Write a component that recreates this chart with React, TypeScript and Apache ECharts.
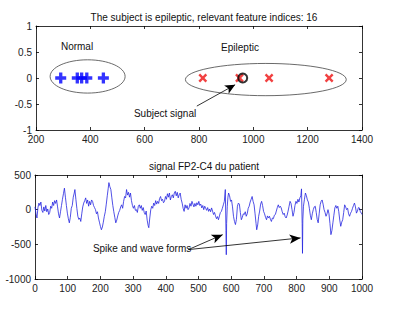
import React, { useEffect, useRef } from "react";
import * as echarts from "echarts";

// ---- Top panel data ----
const normalX = [291, 352, 368, 387, 448];
const epilepticX = [814, 949, 1058, 1279];
const subjectX = [961];
const featureY = 0;
// ellipses: [cx, cy, rx, ry]
const ellipses = [
  [390, 0.03, 138, 0.32],
  [1046, -0.03, 296, 0.31],
];
const topXTicks = { min: 200, max: 1400, interval: 200 };
const topYTicks = { min: -1, max: 1, interval: 0.5 };
const topTitle = "The subject is epileptic, relevant feature indices: 16";
const topLabels = [
  { text: "Normal", x: 351, y: 0.6 },
  { text: "Epileptic", x: 951, y: 0.59 },
  { text: "Subject signal", x: 675, y: -0.68 },
];
const topArrow = [[792, -0.54], [933, -0.13]];

// ---- Bottom panel data (signal samples) ----
const sigT = [
  0, 3, 6, 9, 12, 15, 18, 21, 24, 27, 30, 33, 36, 39, 42, 45, 48, 51, 54, 57, 60, 63, 66, 69, 72, 75, 78, 81, 84, 87, 90, 93, 96, 99,
  102, 105, 108, 111, 114, 117, 120, 122, 125, 128, 131, 134, 137, 140, 143, 146, 149, 152, 155, 158, 161, 164, 167, 170, 173, 176, 179,
  182, 185, 188, 191, 194, 197, 200, 203, 206, 209, 212, 215, 218, 221, 224, 226, 229, 232, 235, 238, 241, 244, 247, 250, 253, 256, 259,
  262, 265, 268, 271, 274, 277, 280, 283, 286, 289, 292, 295, 298, 301, 304, 307, 310, 313, 316, 319, 322, 325, 328, 331, 334, 337, 340,
  343, 346, 348, 351, 354, 357, 360, 363, 366, 369, 372, 375, 378, 381, 384, 387, 390, 393, 396, 399, 402, 405, 408, 411, 414, 417, 420,
  423, 426, 429, 432, 435, 438, 441, 444, 447, 450, 453, 456, 459, 462, 465, 468, 471, 474, 477, 480, 483, 486, 489, 492, 495, 498, 501,
  504, 507, 510, 513, 516, 519, 522, 525, 528, 531, 534, 537, 540, 543, 546, 549, 552, 555, 558, 561, 564, 567, 570, 573, 576, 579, 582,
  584, 585, 586, 588, 590, 592, 595, 598, 601, 604, 607, 610, 613, 616, 619, 622, 625, 628, 631, 634, 637, 640, 643, 646, 649, 652, 655,
  658, 661, 664, 667, 670, 673, 676, 678, 681, 684, 687, 690, 693, 696, 699, 702, 705, 708, 711, 714, 717, 720, 723, 726, 729, 732, 735,
  738, 741, 744, 747, 750, 753, 756, 759, 762, 765, 768, 771, 774, 777, 780, 783, 786, 789, 792, 795, 798, 801, 804, 807, 810, 813, 815,
  817, 818, 819, 821, 824, 827, 830, 833, 836, 839, 842, 845, 848, 851, 854, 857, 860, 863, 866, 869, 872, 875, 878, 881, 884, 887, 890,
  893, 896, 899, 902, 905, 908, 911, 914, 917, 920, 923, 926, 929, 932, 935, 938, 941, 944, 947, 950, 953, 956, 959, 962, 965, 968, 971,
  974, 977, 980, 983, 986, 989, 992, 995, 998, 1000,
];
const sigV = [
  40, -60, -120, 30, 95, 60, 110, -10, -40, 40, -20, 60, -30, 10, -70, -40, 50, 20, 110, 60, 130, 90, 140, 40, -60, -120, -30, 60, 150, 230, 310, 180, 60, -50,
  -130, -190, -110, 20, 60, 180, 240, 290, 150, 20, -95, -140, -120, -170, -60, 40, 95, 130, 170, 90, 140, 50, 120, 70, 140, 120, 60,
  30, 0, -60, -30, -120, -180, -240, -290, -250, -180, -95, -30, 80, 200, 310, 390, 330, 290, 170, 60, -30, -110, -190, -150, -90, -40, -10,
  40, 70, 20, 120, 190, 170, 290, 210, 250, 180, 240, 130, 60, 20, 60, -10, 0, -40, 50, 70, 20, 60, -10, 30, -40, -70, -20,
  -150, -230, -260, -120, 0, 50, 20, 95, 60, 130, 80, 120, 90, 160, 190, 130, 150, 100, 120, 190, 150, 230, 180, 240, 140, 190, 215,
  170, 240, 265, 200, 250, 170, 215, 240, 150, 95, 20, -25, 70, 20, 60, 0, 25, 90, 50, 120, 80, 40, 90, 50, 100, 70, 120,
  60, 80, 25, 60, 0, 50, 20, -10, 30, -25, 10, -30, 25, -20, -70, -40, -90, -130, -100, -145, -90, -40, -25, 20, 70, 120, 290,
  -300, -650, -200, 50, 180, 240, 200, 120, 140, 40, -95, -170, -215, -140, 50, 95, 80, -40, -145, -110, -60, -70, -30, -95, -60, 20, 50,
  110, 150, 190, 120, 70, -60, -200, -290, -220, -95, -20, 80, 120, 60, -25, -60, -110, -145, -90, -120, -95, -140, -170, -120, -130, -80, -70,
  -20, 30, 70, 30, 50, 25, -30, -70, -50, -100, -120, -80, -20, 50, 120, 90, 0, -95, -40, 60, 120, 90, 150, 110, 170, 200, 300,
  -200, -630, -150, 50, 150, 240, 200, 140, 110, 20, -80, -145, -60, 0, 40, 50, -40, -140, -190, -60, 70, 120, 140, 80, 0, -40, -95,
  -60, 0, -60, -200, -360, -300, -190, -80, 25, 60, 20, 50, -30, -150, -240, -180, -145, -40, 70, 40, 0, 20, -60, -95, -50, -25, 20,
  60, 95, 40, -50, -20, 30, 25, -30, -50, -70,
];
const botXTicks = { min: 0, max: 1000, interval: 100 };
const botYTicks = { min: -1000, max: 500, interval: 500 };
const botTitle = "signal FP2-C4 du patient";
const botLabel = { text: "Spike and wave forms", x: 177, y: -560 };
const botArrows = [
  [[469, -576], [574, -360]],
  [[469, -576], [812, -407]],
];

const FONT = "Liberation Sans, Arial, sans-serif";
const PLUS = "path://M3.5,0H6.5V3.5H10V6.5H6.5V10H3.5V6.5H0V3.5H3.5Z";
const XMARK = "path://M3.8,0H6.2V3.8H10V6.2H6.2V10H3.8V6.2H0V3.8H3.8Z";

function axisPair(kind: "x" | "y", grid: number, t: { min: number; max: number; interval: number }) {
  const common = {
    type: "value",
    gridIndex: grid,
    min: t.min,
    max: t.max,
    interval: t.interval,
    splitLine: { show: false },
    axisLine: { show: true, onZero: false, lineStyle: { color: "#000", width: 0.8 } },
    axisTick: { show: true, inside: true, length: 3, lineStyle: { color: "#000", width: 0.8 } },
  };
  const main = {
    ...common,
    position: kind === "x" ? "bottom" : "left",
    axisLabel: {
      show: true,
      color: "#222",
      fontSize: 10,
      fontFamily: FONT,
      margin: 4,
      formatter: (v: number) => String(v),
    },
  };
  const other = {
    ...common,
    position: kind === "x" ? "top" : "right",
    axisLabel: { show: false },
  };
  return [main, other];
}

export default function App() {
  const ref = useRef<HTMLDivElement>(null);
  useEffect(() => {
    document.body.style.margin = "0";
    const chart = echarts.init(ref.current!, undefined, { renderer: "svg" });
    const ellipseSeries = {
      type: "custom",
      xAxisIndex: 0,
      yAxisIndex: 0,
      silent: true,
      data: ellipses,
      renderItem: (_p: any, api: any) => {
        const c = api.coord([api.value(0), api.value(1)]);
        const o = api.coord([api.value(0) + api.value(2), api.value(1) + api.value(3)]);
        return {
          type: "ellipse",
          shape: { cx: c[0], cy: c[1], rx: Math.abs(o[0] - c[0]), ry: Math.abs(o[1] - c[1]) },
          style: { fill: "none", stroke: "#444", lineWidth: 0.8 },
        };
      },
    };
    const arrowStyle = { color: "#000", width: 0.8, type: "solid" };
    chart.setOption({
      animation: false,
      title: [
        { text: topTitle, left: 199, top: 7, textAlign: "center", textStyle: { fontSize: 10, fontWeight: "normal", color: "#111", fontFamily: FONT } },
        { text: botTitle, left: 199, top: 156, textAlign: "center", textStyle: { fontSize: 10, fontWeight: "normal", color: "#111", fontFamily: FONT } },
      ],
      grid: [
        { left: 36, top: 26, width: 326, height: 104 },
        { left: 35, top: 175, width: 327, height: 104 },
      ],
      xAxis: [...axisPair("x", 0, topXTicks), ...axisPair("x", 1, botXTicks)],
      yAxis: [...axisPair("y", 0, topYTicks), ...axisPair("y", 1, botYTicks)],
      series: [
        ellipseSeries,
        {
          type: "scatter",
          xAxisIndex: 0,
          yAxisIndex: 0,
          data: normalX.map((x) => [x, featureY]),
          symbol: PLUS,
          symbolSize: 11,
          itemStyle: { color: "#0000ff" },
        },
        {
          type: "scatter",
          xAxisIndex: 0,
          yAxisIndex: 0,
          data: epilepticX.map((x) => [x, featureY]),
          symbol: XMARK,
          symbolRotate: 45,
          symbolSize: 10,
          itemStyle: { color: "#ee1111" },
        },
        {
          type: "scatter",
          xAxisIndex: 0,
          yAxisIndex: 0,
          data: subjectX.map((x) => [x, featureY]),
          symbol: "circle",
          symbolSize: 9,
          itemStyle: { color: "rgba(0,0,0,0)", borderColor: "#000", borderWidth: 2 },
          markLine: {
            silent: true,
            symbol: ["none", "arrow"],
            symbolSize: [7, 10],
            label: { show: false },
            lineStyle: arrowStyle,
            data: [[{ coord: topArrow[0] }, { coord: topArrow[1] }]],
          },
        },
        {
          type: "line",
          xAxisIndex: 2,
          yAxisIndex: 2,
          data: sigT.map((t, i) => [t, sigV[i]]),
          showSymbol: false,
          lineStyle: { color: "#2424e0", width: 0.8 },
          markLine: {
            silent: true,
            symbol: ["none", "arrow"],
            symbolSize: [7, 11],
            label: { show: false },
            lineStyle: arrowStyle,
            data: botArrows.map((a) => [{ coord: a[0] }, { coord: a[1] }]),
          },
        },
      ],
    });
    const texts: any[] = [];
    topLabels.forEach((l) => {
      const p = chart.convertToPixel({ gridIndex: 0 }, [l.x, l.y]) as number[];
      texts.push({
        type: "text",
        x: p[0],
        y: p[1],
        style: { text: l.text, fill: "#111", fontSize: 10, fontFamily: FONT, align: "center", verticalAlign: "middle" },
      });
    });
    const bp = chart.convertToPixel({ gridIndex: 1 }, [botLabel.x, botLabel.y]) as number[];
    texts.push({
      type: "text",
      x: bp[0],
      y: bp[1],
      style: { text: botLabel.text, fill: "#111", fontSize: 10, fontFamily: FONT, align: "left", verticalAlign: "middle" },
    });
    chart.setOption({ graphic: texts });
    return () => chart.dispose();
  }, []);
  return <div ref={ref} style={{ width: 400, height: 315 }} />;
}
